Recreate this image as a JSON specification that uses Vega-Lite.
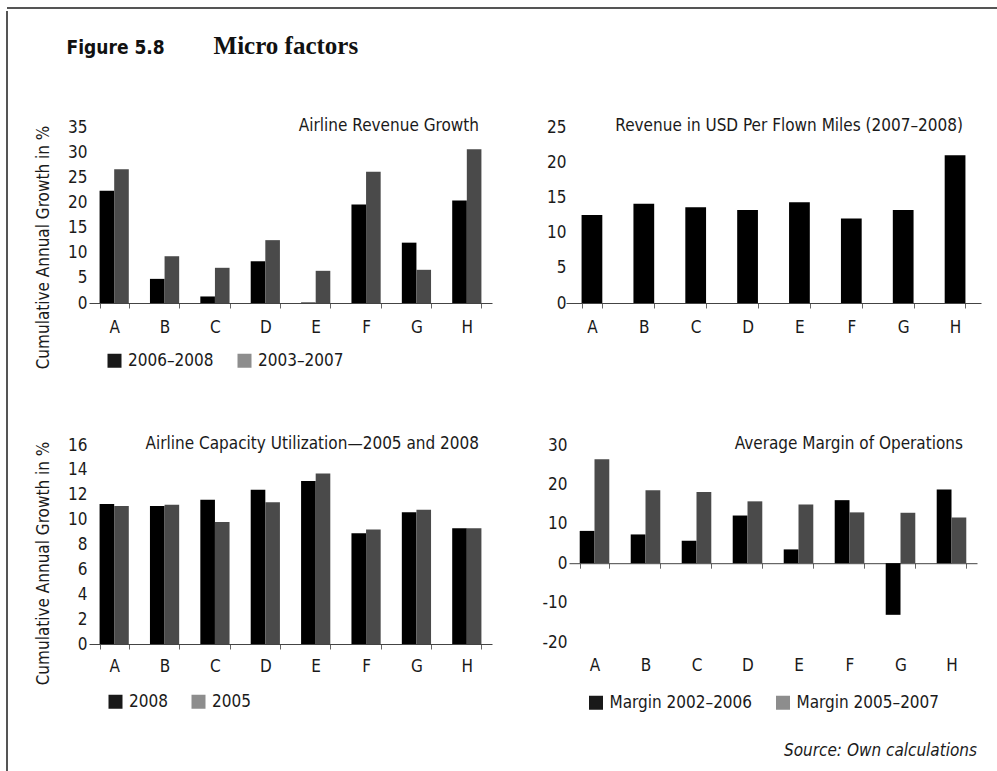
{
  "$schema": "https://vega.github.io/schema/vega-lite/v6.json",
  "padding": {"left": 6, "top": 7, "right": 0, "bottom": 0},
  "background": "#ffffff",
  "config": {
    "view": {"stroke": null},
    "font": "DejaVu Sans Condensed, DejaVu Sans, sans-serif",
    "axis": {"labelFont": "DejaVu Sans Condensed, DejaVu Sans, sans-serif", "labelFontSize": 17, "labelColor": "#1a1a1a", "titleFont": "DejaVu Sans Condensed, DejaVu Sans, sans-serif", "titleFontSize": 17, "titleFontWeight": "normal", "titleColor": "#1a1a1a", "grid": false},
    "legend": {"labelFont": "DejaVu Sans Condensed, DejaVu Sans, sans-serif", "labelFontSize": 17, "labelColor": "#1a1a1a"}
  },
  "spacing": 0,
  "vconcat": [
    {
      "width": 991, "height": 1,
      "data": {"values": [{"edge": 0}]},
      "mark": {"type": "rule", "color": "#555555", "strokeWidth": 2},
      "encoding": {"y": {"field": "edge", "type": "quantitative", "scale": {"domain": [0, 1]}, "axis": null}}
    },
    {
      "bounds": "flush",
      "spacing": 81,
      "hconcat": [
        {
          "width": 1, "height": 660,
          "data": {"values": [{"edge": 0}]},
          "mark": {"type": "rule", "color": "#555555", "strokeWidth": 2},
          "encoding": {
            "x": {"field": "edge", "type": "quantitative", "scale": {"domain": [0, 1]}, "axis": null},
            "y": {"datum": 0, "type": "quantitative", "scale": {"domain": [0, 1]}, "axis": null},
            "y2": {"datum": 1.1758}
          }
        },
        {
          "title": {"text": "Figure 5.8", "anchor": "start", "dx": 32, "offset": -24, "font": "DejaVu Sans Condensed, DejaVu Sans, sans-serif", "fontWeight": "bold", "fontSize": 19, "color": "#111111"},
          "spacing": 65,
          "resolve": {"scale": {"xOffset": "independent", "fill": "independent"}, "legend": {"fill": "independent"}},
          "vconcat": [
            {
              "spacing": 54,
              "resolve": {"scale": {"xOffset": "independent", "fill": "independent"}, "legend": {"fill": "independent"}},
              "title": {"text": "Micro factors", "anchor": "start", "dx": 179, "offset": 58, "font": "Liberation Serif", "fontWeight": "bold", "fontSize": 25, "color": "#111111"},
              "hconcat": [
                {
                  "width": 403, "height": 176,
                  "title": {"text": "Airline Revenue Growth", "anchor": "end", "frame": "group", "offset": -16.5, "dx": -13, "fontSize": 17, "fontWeight": "normal", "color": "#1a1a1a"},
                  "data": {"values": [
                    {"company": "A", "series": "2006–2008", "value": 22.3}, {"company": "A", "series": "2003–2007", "value": 26.6},
                    {"company": "B", "series": "2006–2008", "value": 4.8}, {"company": "B", "series": "2003–2007", "value": 9.3},
                    {"company": "C", "series": "2006–2008", "value": 1.3}, {"company": "C", "series": "2003–2007", "value": 7.0},
                    {"company": "D", "series": "2006–2008", "value": 8.3}, {"company": "D", "series": "2003–2007", "value": 12.5},
                    {"company": "E", "series": "2006–2008", "value": 0.1}, {"company": "E", "series": "2003–2007", "value": 6.4},
                    {"company": "F", "series": "2006–2008", "value": 19.6}, {"company": "F", "series": "2003–2007", "value": 26.1},
                    {"company": "G", "series": "2006–2008", "value": 12.0}, {"company": "G", "series": "2003–2007", "value": 6.6},
                    {"company": "H", "series": "2006–2008", "value": 20.4}, {"company": "H", "series": "2003–2007", "value": 30.6}
                  ]},
                  "mark": {"type": "bar"},
                  "encoding": {
                    "x": {"field": "company", "type": "nominal", "title": null, "scale": {"paddingInner": 0.42, "paddingOuter": 0.21}, "axis": {"labelAngle": 0, "domainColor": "#444444", "tickColor": "#666666", "tickSize": 5, "tickBand": "extent", "labelPadding": 11}},
                    "xOffset": {"field": "series", "type": "nominal", "scale": {"domain": ["2006–2008", "2003–2007"], "paddingInner": 0, "paddingOuter": 0}},
                    "y": {"field": "value", "type": "quantitative", "scale": {"domain": [0, 35]}, "axis": {"values": [0, 5, 10, 15, 20, 25, 30, 35], "domain": false, "ticks": false, "labelPadding": 2, "title": "Cumulative Annual Growth in %", "titlePadding": 15, "titleY": 120}},
                    "fill": {"field": "series", "type": "nominal", "scale": {"domain": ["2006–2008", "2003–2007"], "range": ["#000000", "#4a4a4a"]},
                      "legend": {"orient": "none", "legendX": 17, "legendY": 225, "direction": "horizontal", "title": null, "symbolType": "square", "symbolSize": 196, "symbolStrokeWidth": 0, "labelOffset": 5, "columnPadding": 22,
                        "encode": {"symbols": {"update": {"fillOpacity": {"signal": "datum.value === '2003–2007' ? 0.63 : 0.9"}}}}}}
                  }
                },
                {
                  "width": 415, "height": 176,
                  "title": {"text": "Revenue in USD Per Flown Miles (2007–2008)", "anchor": "end", "frame": "group", "offset": -16.5, "dx": -18, "fontSize": 17, "fontWeight": "normal", "color": "#1a1a1a"},
                  "data": {"values": [
                    {"company": "A", "value": 12.5}, {"company": "B", "value": 14.1}, {"company": "C", "value": 13.6}, {"company": "D", "value": 13.2},
                    {"company": "E", "value": 14.3}, {"company": "F", "value": 12.0}, {"company": "G", "value": 13.2}, {"company": "H", "value": 21.0}
                  ]},
                  "mark": {"type": "bar", "color": "#000000"},
                  "encoding": {
                    "x": {"field": "company", "type": "nominal", "title": null, "scale": {"paddingInner": 0.6, "paddingOuter": 0.3}, "axis": {"labelAngle": 0, "domainColor": "#444444", "tickColor": "#666666", "tickSize": 5, "tickBand": "extent", "labelPadding": 11}},
                    "y": {"field": "value", "type": "quantitative", "scale": {"domain": [0, 25]}, "axis": {"values": [0, 5, 10, 15, 20, 25], "domain": false, "ticks": false, "labelPadding": 0, "title": null}}
                  }
                }
              ]
            },
            {
              "spacing": 50,
              "resolve": {"scale": {"xOffset": "independent", "fill": "independent"}, "legend": {"fill": "independent"}},
              "title": {"text": "Source: Own calculations", "orient": "bottom", "anchor": "end", "offset": 32, "fontSize": 17, "fontStyle": "italic", "fontWeight": "normal", "color": "#1a1a1a"},
              "hconcat": [
                {
                  "width": 403, "height": 199,
                  "title": {"text": "Airline Capacity Utilization—2005 and 2008", "anchor": "end", "frame": "group", "offset": -16.5, "dx": -13, "fontSize": 17, "fontWeight": "normal", "color": "#1a1a1a"},
                  "data": {"values": [
                    {"company": "A", "series": "2008", "value": 11.26}, {"company": "A", "series": "2005", "value": 11.1},
                    {"company": "B", "series": "2008", "value": 11.1}, {"company": "B", "series": "2005", "value": 11.2},
                    {"company": "C", "series": "2008", "value": 11.6}, {"company": "C", "series": "2005", "value": 9.8},
                    {"company": "D", "series": "2008", "value": 12.4}, {"company": "D", "series": "2005", "value": 11.4},
                    {"company": "E", "series": "2008", "value": 13.1}, {"company": "E", "series": "2005", "value": 13.7},
                    {"company": "F", "series": "2008", "value": 8.9}, {"company": "F", "series": "2005", "value": 9.2},
                    {"company": "G", "series": "2008", "value": 10.6}, {"company": "G", "series": "2005", "value": 10.8},
                    {"company": "H", "series": "2008", "value": 9.3}, {"company": "H", "series": "2005", "value": 9.3}
                  ]},
                  "mark": {"type": "bar"},
                  "encoding": {
                    "x": {"field": "company", "type": "nominal", "title": null, "scale": {"paddingInner": 0.42, "paddingOuter": 0.21}, "axis": {"labelAngle": 0, "domainColor": "#444444", "tickColor": "#666666", "tickSize": 5, "tickBand": "extent", "labelPadding": 9}},
                    "xOffset": {"field": "series", "type": "nominal", "scale": {"domain": ["2008", "2005"], "paddingInner": 0, "paddingOuter": 0}},
                    "y": {"field": "value", "type": "quantitative", "scale": {"domain": [0, 16]}, "axis": {"values": [0, 2, 4, 6, 8, 10, 12, 14, 16], "domain": false, "ticks": false, "labelPadding": 2, "title": "Cumulative Annual Growth in %", "titlePadding": 15, "titleY": 118}},
                    "fill": {"field": "series", "type": "nominal", "scale": {"domain": ["2008", "2005"], "range": ["#000000", "#4a4a4a"]},
                      "legend": {"orient": "none", "legendX": 18, "legendY": 248, "direction": "horizontal", "title": null, "symbolType": "square", "symbolSize": 196, "symbolStrokeWidth": 0, "labelOffset": 5, "columnPadding": 22,
                        "encode": {"symbols": {"update": {"fillOpacity": {"signal": "datum.value === '2005' ? 0.63 : 0.9"}}}}}}
                  }
                },
                {
                  "width": 408, "height": 197,
                  "title": {"text": "Average Margin of Operations", "anchor": "end", "frame": "group", "offset": -16.5, "dx": -14, "fontSize": 17, "fontWeight": "normal", "color": "#1a1a1a"},
                  "data": {"values": [
                    {"company": "A", "series": "Margin 2002–2006", "value": 8.2}, {"company": "A", "series": "Margin 2005–2007", "value": 26.4},
                    {"company": "B", "series": "Margin 2002–2006", "value": 7.3}, {"company": "B", "series": "Margin 2005–2007", "value": 18.5},
                    {"company": "C", "series": "Margin 2002–2006", "value": 5.7}, {"company": "C", "series": "Margin 2005–2007", "value": 18.1},
                    {"company": "D", "series": "Margin 2002–2006", "value": 12.1}, {"company": "D", "series": "Margin 2005–2007", "value": 15.7},
                    {"company": "E", "series": "Margin 2002–2006", "value": 3.5}, {"company": "E", "series": "Margin 2005–2007", "value": 14.9},
                    {"company": "F", "series": "Margin 2002–2006", "value": 16.0}, {"company": "F", "series": "Margin 2005–2007", "value": 12.9},
                    {"company": "G", "series": "Margin 2002–2006", "value": -13.1}, {"company": "G", "series": "Margin 2005–2007", "value": 12.8},
                    {"company": "H", "series": "Margin 2002–2006", "value": 18.7}, {"company": "H", "series": "Margin 2005–2007", "value": 11.6}
                  ]},
                  "mark": {"type": "bar"},
                  "encoding": {
                    "x": {"field": "company", "type": "nominal", "title": null, "scale": {"paddingInner": 0.42, "paddingOuter": 0.21}, "axis": {"labelAngle": 0, "domainColor": "#444444", "tickColor": "#666666", "tickSize": 5, "tickBand": "extent", "offset": -78.8, "labelPadding": 89}},
                    "xOffset": {"field": "series", "type": "nominal", "scale": {"domain": ["Margin 2002–2006", "Margin 2005–2007"], "paddingInner": 0, "paddingOuter": 0}},
                    "y": {"field": "value", "type": "quantitative", "scale": {"domain": [-20, 30]}, "axis": {"values": [-20, -10, 0, 10, 20, 30], "labelExpr": "'' + datum.value", "domain": false, "ticks": false, "labelPadding": 2, "title": null}},
                    "fill": {"field": "series", "type": "nominal", "scale": {"domain": ["Margin 2002–2006", "Margin 2005–2007"], "range": ["#000000", "#4a4a4a"]},
                      "legend": {"orient": "none", "legendX": 18.5, "legendY": 249, "direction": "horizontal", "title": null, "symbolType": "square", "symbolSize": 196, "symbolStrokeWidth": 0, "labelOffset": 5, "columnPadding": 22,
                        "encode": {"symbols": {"update": {"fillOpacity": {"signal": "datum.value === 'Margin 2005–2007' ? 0.63 : 0.9"}}}}}}
                  }
                }
              ]
            }
          ]
        }
      ]
    }
  ]
}
